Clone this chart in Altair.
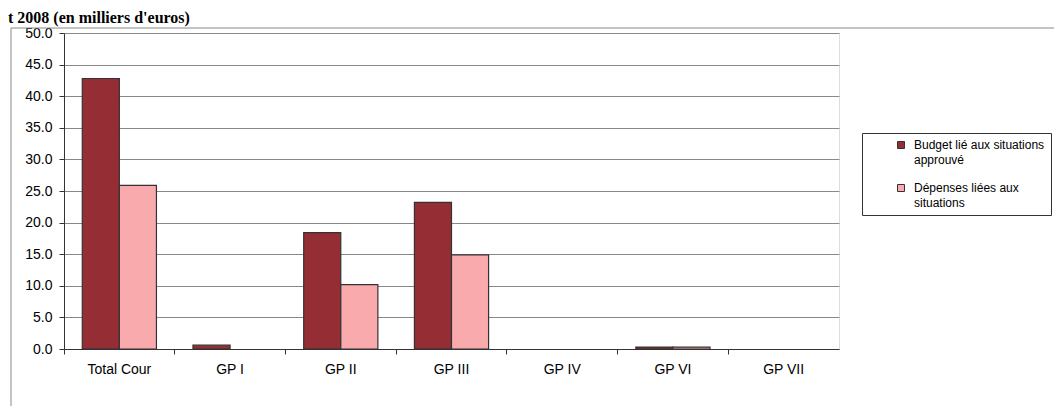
import altair as alt
import pandas as pd

title_text = "t 2008 (en milliers d'euros)"
categories = ["Total Cour", "GP I", "GP II", "GP III", "GP IV", "GP VI", "GP VII"]
series_names = ["Budget lié aux situations|approuvé", "Dépenses liées aux|situations"]
budget = [42.8, 0.6, 18.4, 23.2, 0.0, 0.3, 0.0]
depenses = [25.9, 0.0, 10.2, 14.9, 0.0, 0.3, 0.0]
y_ticks = [0, 5, 10, 15, 20, 25, 30, 35, 40, 45, 50]
colors = ["#952D35", "#F9AAAD"]

rows = []
for i, c in enumerate(categories):
    rows.append({"cat": c, "serie": series_names[0], "value": budget[i]})
    rows.append({"cat": c, "serie": series_names[1], "value": depenses[i]})
df = pd.DataFrame(rows)

W, H = 775, 316
PI = 0.33

bars = alt.Chart(df).transform_filter("datum.value > 0").mark_bar(
    stroke="#333333", strokeWidth=1.2
).encode(
    x=alt.X("cat:N", sort=categories, title=None,
            scale=alt.Scale(domain=categories, paddingInner=PI, paddingOuter=PI / 2),
            axis=alt.Axis(bandPosition=-(PI / 2) / (1 - PI), labelAngle=0,
                          labelFont="Liberation Sans", labelFontSize=14,
                          labelColor="#000", labelPadding=8, tickSize=5,
                          tickColor="#333", domainColor="#333", grid=False)),
    xOffset=alt.XOffset("serie:N", sort=series_names,
                        scale=alt.Scale(domain=series_names, paddingInner=0, paddingOuter=0)),
    y=alt.Y("value:Q", title=None,
            scale=alt.Scale(domain=[0, 50], nice=False),
            axis=alt.Axis(values=y_ticks, format=".1f",
                          labelFont="Liberation Sans", labelFontSize=14,
                          labelColor="#000", labelPadding=7, tickSize=5,
                          tickColor="#333", domainColor="#333",
                          gridColor="#888", gridOpacity=1)),
    color=alt.Color("serie:N", sort=series_names,
                    scale=alt.Scale(domain=series_names, range=colors),
                    legend=alt.Legend(orient="none", legendX=798, legendY=100,
                                      title=None, padding=6, symbolOffset=27,
                                      symbolType="square", symbolSize=49,
                                      symbolStrokeColor="#333", symbolStrokeWidth=1,
                                      labelExpr="split(datum.label, '|')",
                                      labelFont="Liberation Sans", labelFontSize=12,
                                      labelColor="#000", labelLimit=0, labelOffset=7,
                                      rowPadding=16, strokeColor="#333",
                                      fillColor="white")),
)

title_df = pd.DataFrame({"t": [title_text]})
title = alt.Chart(title_df).mark_text(
    font="Liberation Serif", fontSize=16, fontWeight="bold",
    align="left", baseline="alphabetic", color="#000"
).encode(text="t:N", x=alt.value(-56), y=alt.value(-10))

frame_df = pd.DataFrame({"k": [0]})
frame_left = alt.Chart(frame_df).mark_rule(color="#888", strokeWidth=1).encode(
    x=alt.value(-53), y=alt.value(-5), y2=alt.value(373))
frame_top = alt.Chart(frame_df).mark_rule(color="#888", strokeWidth=1).encode(
    x=alt.value(-53), x2=alt.value(990), y=alt.value(-5))

chart = alt.layer(frame_left, frame_top, title, bars).properties(
    width=W, height=H,
    autosize=alt.AutoSizeParams(type="none"),
    padding={"left": 56, "top": 25, "right": 215, "bottom": 57},
).configure_view(stroke="#888", strokeWidth=1).configure(
    style={"guide-label": {"lineHeight": 15}}
)

chart.save("out.html", embed_options={"renderer": "svg", "actions": False})
